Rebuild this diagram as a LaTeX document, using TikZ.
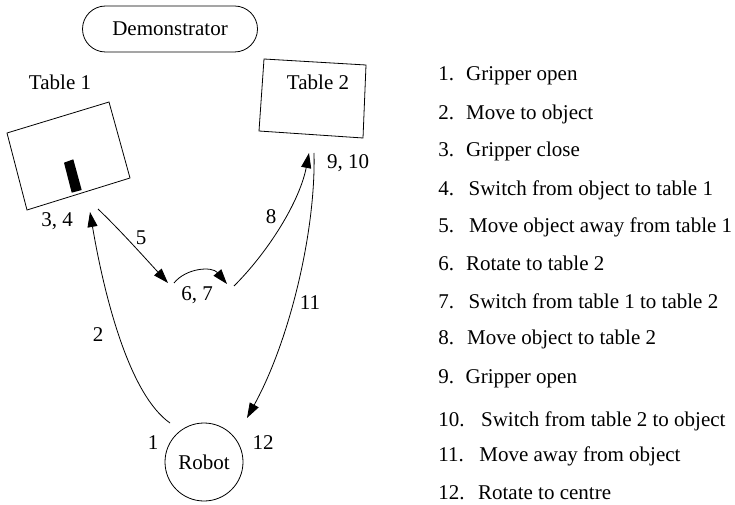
\documentclass[tikz,border=0pt]{standalone}
\usepackage{fontspec}
\setmainfont{Liberation Serif}
\usetikzlibrary{arrows.meta}
\begin{document}
\begin{tikzpicture}[x=1pt,y=-1pt,
  font=\fontsize{21}{25}\selectfont,
  line width=0.8pt,
  flow/.style={-{Triangle[length=15pt,width=10pt]}},
  tag/.style={inner sep=0pt},
  item/.style={anchor=base west, inner sep=0pt}]
\useasboundingbox (0,0) rectangle (735,505);

% demonstrator
\node[draw, rounded corners=23pt, minimum width=175pt, minimum height=46pt,
      inner sep=0pt] (demo) at (170,29) {Demonstrator};

% table 1 with the object on it
\coordinate (t1a) at (7,133);   \coordinate (t1b) at (109,102);
\coordinate (t1c) at (130,178); \coordinate (t1d) at (27,210);
\draw (t1a) -- (t1b) -- (t1c) -- (t1d) -- cycle;
\fill (64,162.7) -- (73.3,159.3) -- (81.7,190) -- (71.7,192.7) -- cycle;
\node[tag] (t1lab) at (60,82) {Table 1};

% table 2
\coordinate (t2a) at (264,59);  \coordinate (t2b) at (366,65);
\coordinate (t2c) at (363,138); \coordinate (t2d) at (259,131);
\draw (t2a) -- (t2b) -- (t2c) -- (t2d) -- cycle;
\node[tag] (t2lab) at (318,82) {Table 2};

% robot
\node[draw, circle, minimum size=78pt, inner sep=0pt] (robot) at (204,462) {Robot};

% end points of the motions
\coordinate (r1)  at (170,423);
\coordinate (p34) at (90,212);
\coordinate (q5)  at (98,209);
\coordinate (m5)  at (168,283);
\coordinate (m6)  at (174,283);
\coordinate (m7)  at (227,284);
\coordinate (m8)  at (234,286);
\coordinate (p9)  at (309,153);
\coordinate (q10) at (314,153);
\coordinate (r12) at (247,418);

% motions
\draw[flow] (r1) .. controls (130,395) and (105,300) .. (p34);
\draw[flow] (q5) .. controls (120,230) and (145,258) .. (m5);
\draw[flow] (m6) .. controls (186,268) and (212,266) .. (m7);
\draw[flow] (m8) .. controls (270,250) and (300,200) .. (p9);
\draw[flow] (q10) .. controls (316,230) and (290,340) .. (r12);

% step labels
\node[tag] (s1)  at (153,443) {1};
\node[tag] (s2)  at (98,335)  {2};
\node[tag] (s34) at (57,221)  {3, 4};
\node[tag] (s5)  at (141,238) {5};
\node[tag] (s67) at (197,295) {6, 7};
\node[tag] (s8)  at (271,217) {8};
\node[tag] (s910) at (348,163) {9, 10};
\node[tag] (s11) at (310,303) {11};
\node[tag] (s12) at (263,443) {12};

% legend
\node[item] (l1)  at (438,81)  {1.\hspace{12pt}Gripper open};
\node[item] (l2)  at (438,120) {2.\hspace{12pt}Move to object};
\node[item] (l3)  at (438,157) {3.\hspace{12pt}Gripper close};
\node[item] (l4)  at (438,195) {4.\hspace{14.5pt}Switch from object to table 1};
\node[item] (l5)  at (438,232) {5.\hspace{15pt}Move object away from table 1};
\node[item] (l6)  at (438,270) {6.\hspace{12pt}Rotate to table 2};
\node[item] (l7)  at (438,308) {7.\hspace{14.5pt}Switch from table 1 to table 2};
\node[item] (l8)  at (438,344) {8.\hspace{13pt}Move object to table 2};
\node[item] (l9)  at (438,383) {9.\hspace{11.5pt}Gripper open};
\node[item] (l10) at (438,426) {10.\hspace{16.5pt}Switch from table 2 to object};
\node[item] (l11) at (438,461) {11.\hspace{15.5pt}Move away from object};
\node[item] (l12) at (438,499) {12.\hspace{13.5pt}Rotate to centre};
\end{tikzpicture}
\end{document}
